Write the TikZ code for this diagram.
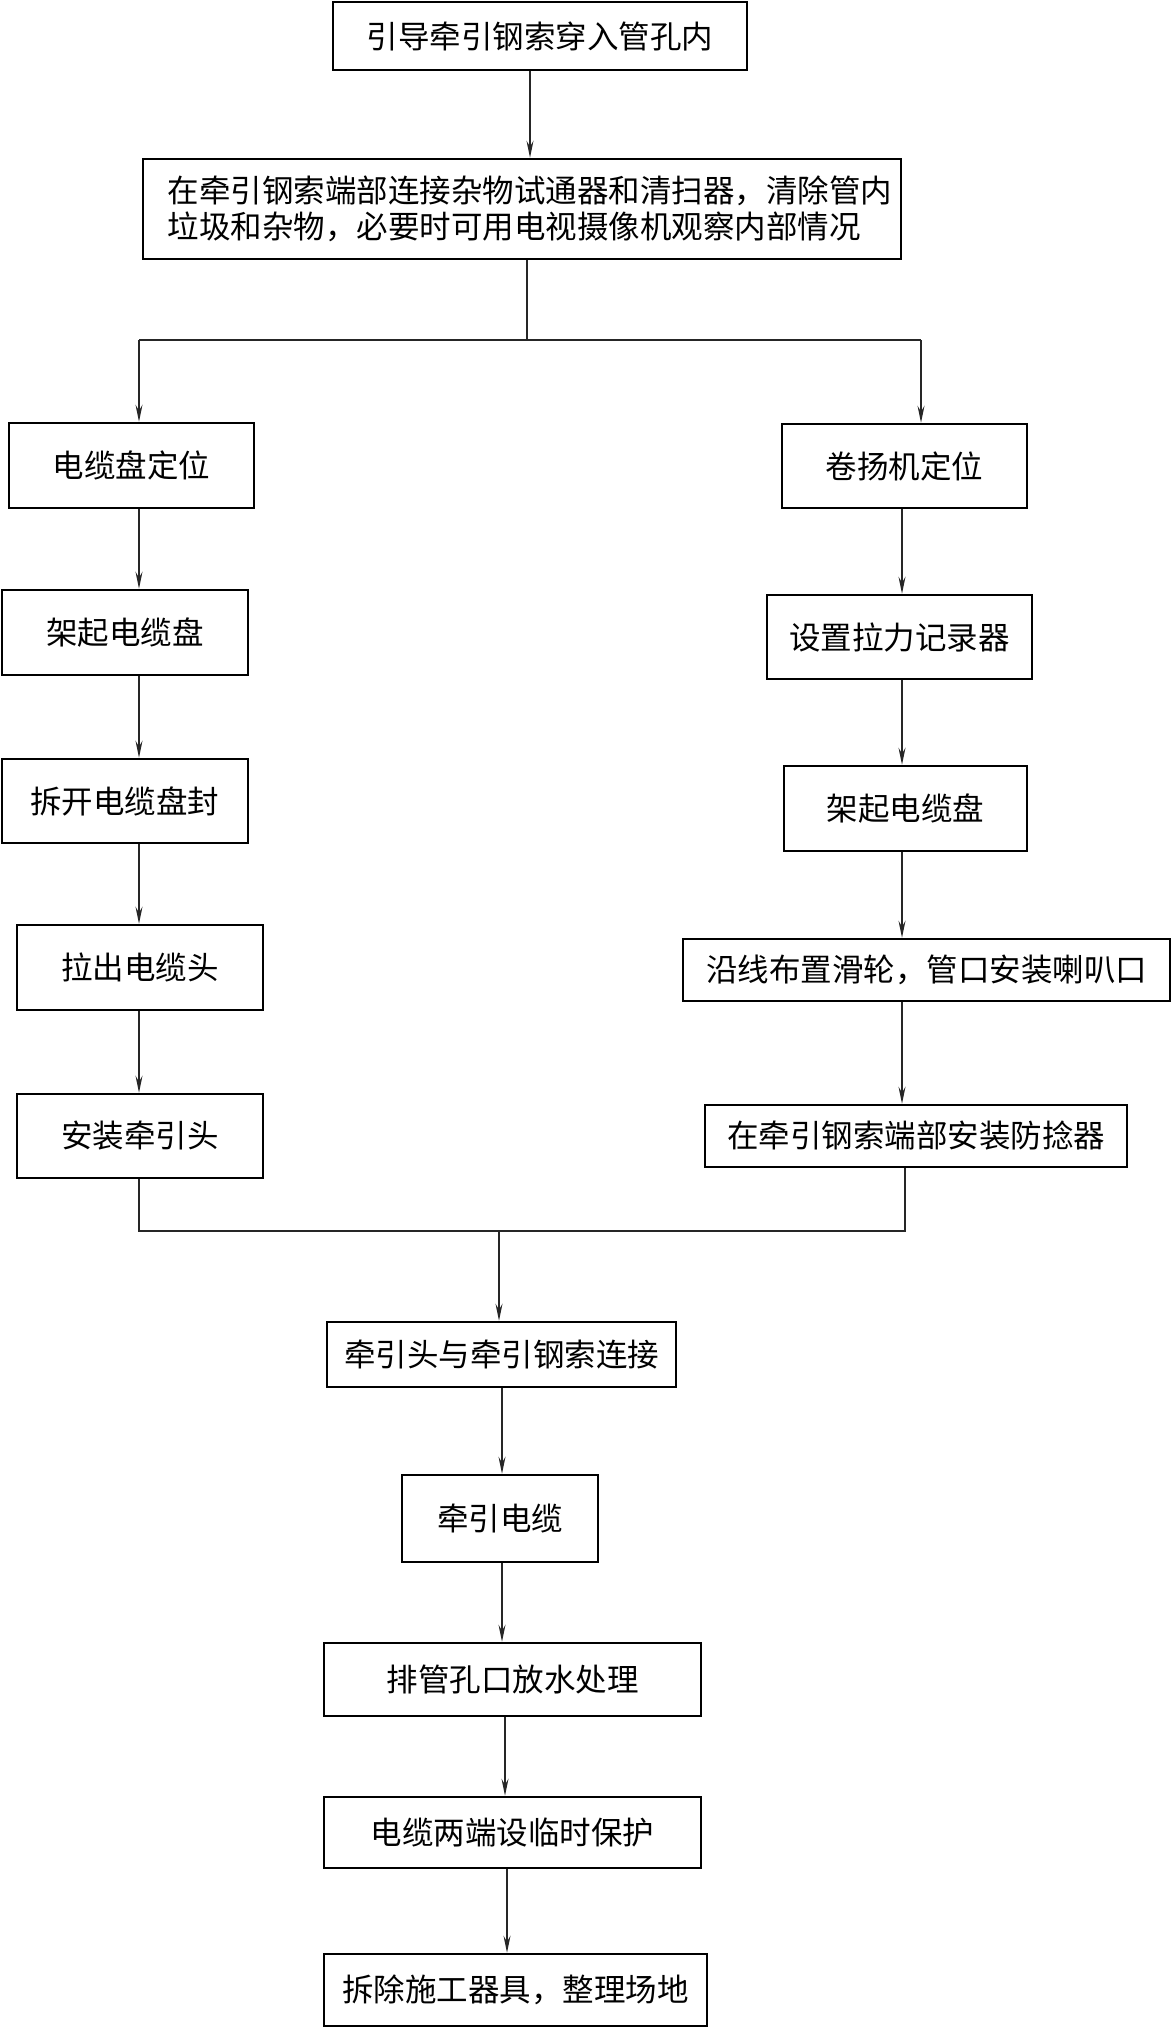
\documentclass[tikz,border=0pt]{standalone}
\usepackage{fontspec}
\setmainfont{Noto Sans CJK SC}
\usetikzlibrary{arrows.meta}
\tikzset{
  box/.style={draw=black, line width=2.6pt, rectangle, inner sep=0pt, align=center,
    font=\fontsize{31.5pt}{36pt}\selectfont},
  conn/.style={line width=1.2pt, draw=black!85},
  arr/.style={conn, -{Stealth[length=17pt,width=7pt,inset=6pt]}}
}
\begin{document}
\begin{tikzpicture}[x=1pt,y=-1pt]
\useasboundingbox (0,0) rectangle (1173,2029);
% top
\node[box, minimum width=414pt, minimum height=68pt] (A) at (540,36) {引导牵引钢索穿入管孔内};
\node[box, minimum width=758pt, minimum height=100pt, align=left] (B) at (522,209)
  {\hspace*{16pt}在牵引钢索端部连接杂物试通器和清扫器，清除管内\\\hspace*{16pt}垃圾和杂物，必要时可用电视摄像机观察内部情况};
% left column
\node[box, minimum width=245pt, minimum height=85pt] (L1) at (131.5,465.5) {电缆盘定位};
\node[box, minimum width=246pt, minimum height=85pt] (L2) at (125,632.5) {架起电缆盘};
\node[box, minimum width=246pt, minimum height=84pt] (L3) at (125,801) {拆开电缆盘封};
\node[box, minimum width=246pt, minimum height=85pt] (L4) at (140,967.5) {拉出电缆头};
\node[box, minimum width=246pt, minimum height=84pt] (L5) at (140,1136) {安装牵引头};
% right column
\node[box, minimum width=245pt, minimum height=84pt] (R1) at (904.5,466) {卷扬机定位};
\node[box, minimum width=265pt, minimum height=84pt] (R2) at (899.5,637) {设置拉力记录器};
\node[box, minimum width=243pt, minimum height=85pt] (R3) at (905.5,808.5) {架起电缆盘};
\node[box, minimum width=487pt, minimum height=62pt] (R4) at (926.5,970) {沿线布置滑轮，管口安装喇叭口};
\node[box, minimum width=422pt, minimum height=62pt] (R5) at (916,1136) {在牵引钢索端部安装防捻器};
% center column
\node[box, minimum width=349pt, minimum height=65pt] (C1) at (501.5,1354.5) {牵引头与牵引钢索连接};
\node[box, minimum width=196pt, minimum height=87pt] (C2) at (500,1518.5) {牵引电缆};
\node[box, minimum width=377pt, minimum height=73pt] (C3) at (512.5,1679.5) {排管孔口放水处理};
\node[box, minimum width=377pt, minimum height=71pt] (C4) at (512.5,1832.5) {电缆两端设临时保护};
\node[box, minimum width=383pt, minimum height=72pt] (C5) at (515.5,1990) {拆除施工器具，整理场地};
% junction coordinates
\coordinate (xA) at (530,0);
\coordinate (jB) at (527,340);
\coordinate (jL) at (139,340);
\coordinate (jR) at (921,340);
\coordinate (xR) at (902,0);
\coordinate (mL) at (139,1231);
\coordinate (mR) at (905,1231);
\coordinate (mC) at (499,1231);
% connectors
\draw[arr] (A.south -| xA) -- (B.north -| xA);
\draw[conn] (B.south -| jB) -- (jB);
\draw[conn] (jL) -- (jR);
\draw[arr] (jL) -- (L1.north -| jL);
\draw[arr] (jR) -- (R1.north -| jR);
\draw[arr] (L1.south -| jL) -- (L2.north -| jL);
\draw[arr] (L2.south -| jL) -- (L3.north -| jL);
\draw[arr] (L3.south -| jL) -- (L4.north -| jL);
\draw[arr] (L4.south -| jL) -- (L5.north -| jL);
\draw[arr] (R1.south -| xR) -- (R2.north -| xR);
\draw[arr] (R2.south -| xR) -- (R3.north -| xR);
\draw[arr] (R3.south -| xR) -- (R4.north -| xR);
\draw[arr] (R4.south -| xR) -- (R5.north -| xR);
\draw[conn] (L5.south -| mL) -- (mL) -- (mR) -- (R5.south -| mR);
\draw[arr] (mC) -- (C1.north -| mC);
\coordinate (x1) at (502,0);
\coordinate (x3) at (505,0);
\coordinate (x4) at (507,0);
\draw[arr] (C1.south -| x1) -- (C2.north -| x1);
\draw[arr] (C2.south -| x1) -- (C3.north -| x1);
\draw[arr] (C3.south -| x3) -- (C4.north -| x3);
\draw[arr] (C4.south -| x4) -- (C5.north -| x4);
\end{tikzpicture}
\end{document}
